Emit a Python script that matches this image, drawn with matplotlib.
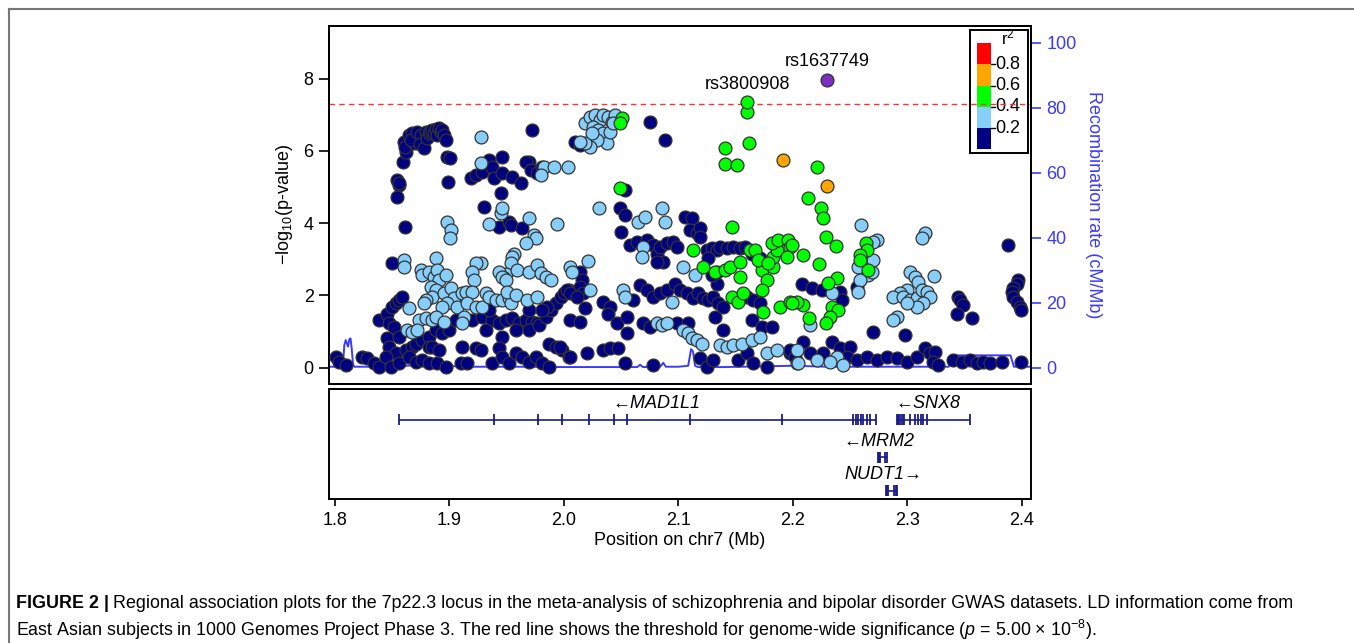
import numpy as np
import matplotlib
matplotlib.use("Agg")
import matplotlib.pyplot as plt
from matplotlib.lines import Line2D
from matplotlib.patches import Rectangle

plt.rcParams['font.family'] = ['Liberation Sans', 'DejaVu Sans']
plt.rcParams['mathtext.fontset'] = 'custom'
plt.rcParams['mathtext.rm'] = 'Liberation Sans'
plt.rcParams['mathtext.it'] = 'Liberation Sans:italic'

# SNPs by LD bin: (position Mb, -log10 p)
snp_r2_00 = [
    (1.8545, 5.19), (1.8559, 5.05), (1.8545, 4.73), (1.8555, 5.10), (1.8594, 5.70),
    (1.8603, 6.25), (1.8617, 5.98), (1.8610, 6.10), (1.8646, 6.44), (1.8676, 6.48),
    (1.8690, 6.21), (1.8660, 6.30), (1.8719, 6.53), (1.8748, 6.44), (1.8740, 6.20),
    (1.8777, 6.07), (1.8792, 6.53), (1.8800, 6.35), (1.8821, 6.48), (1.8830, 6.55),
    (1.8850, 6.58), (1.8865, 6.50), (1.8879, 6.59), (1.8890, 6.45), (1.8908, 6.62),
    (1.8923, 6.53), (1.8937, 6.58), (1.8952, 6.44), (1.8967, 6.30), (1.8981, 5.84),
    (1.9001, 5.79), (1.8990, 5.15), (1.8609, 3.90), (1.8501, 2.89),
    (1.9185, 5.24), (1.9228, 5.33), (1.9287, 5.42), (1.9345, 5.75), (1.9374, 5.56),
    (1.9388, 5.24), (1.9461, 5.84), (1.9461, 5.38), (1.9549, 5.28), (1.9621, 5.10),
    (1.9447, 4.82), (1.9301, 4.45), (1.9432, 3.90), (1.9519, 4.04), (1.9534, 3.95),
    (1.9636, 3.86), (1.9694, 5.70), (1.9665, 5.70), (1.9709, 5.47), (1.9767, 5.38),
    (1.9810, 5.56), (1.9717, 6.58),
    (1.8385, 1.32), (1.8457, 1.50), (1.8501, 1.69), (1.8530, 1.78), (1.8559, 1.87),
    (1.8588, 1.97), (1.8472, 1.23), (1.8515, 1.14), (1.8457, 0.81), (1.8472, 0.58),
    (1.8559, 0.86), (1.8530, 0.40), (1.8617, 0.49), (1.8676, 0.58), (1.8705, 0.67),
    (1.8763, 0.77), (1.8821, 0.86), (1.8879, 1.04), (1.8937, 0.95), (1.8996, 1.04),
    (1.9054, 1.32), (1.8821, 0.58), (1.8850, 0.58), (1.8908, 0.49), (1.9199, 1.32),
    (1.9287, 1.41), (1.9374, 1.32), (1.9432, 1.23), (1.9490, 1.32), (1.9549, 1.37),
    (1.9607, 1.23), (1.9665, 1.32), (1.9723, 1.27), (1.9767, 1.23), (1.9461, 0.86),
    (1.9578, 1.04), (1.9694, 1.04), (1.9781, 1.18), (1.9840, 1.41), (1.9883, 1.60),
    (1.9927, 1.78), (1.9970, 1.97), (1.9999, 2.06), (2.0043, 2.15), (1.9854, 1.69),
    (1.9810, 1.60), (1.9694, 1.60), (1.9345, 1.60), (1.9316, 1.04),
    (1.8006, 0.31), (1.8035, 0.17), (1.8094, 0.08), (1.8239, 0.31), (1.8283, 0.26),
    (1.8341, 0.12), (1.8385, 0.03), (1.8443, 0.31), (1.8486, 0.03), (1.8559, 0.12),
    (1.8646, 0.31), (1.8705, 0.17), (1.8763, 0.21), (1.8821, 0.12), (1.8894, 0.12),
    (1.8967, 0.03), (1.9112, 0.58), (1.9097, 0.12), (1.9156, 0.12), (1.9228, 0.54),
    (1.9272, 0.49), (1.9374, 0.12), (1.9432, 0.54), (1.9461, 0.31), (1.9519, 0.12),
    (1.9578, 0.40), (1.9636, 0.31), (1.9694, 0.17), (1.9752, 0.31), (1.9810, 0.12),
    (1.9869, 0.67), (1.9927, 0.58), (1.9985, 0.49), (2.0043, 0.31), (1.9869, 0.03),
    (2.0096, 6.25), (2.0140, 6.16), (2.0751, 6.79), (2.0882, 6.30), (2.0532, 4.92),
    (2.0489, 4.41), (2.0532, 4.22), (2.0498, 3.76),
    (2.0576, 3.39), (2.0634, 3.49), (2.0722, 3.53), (2.0780, 3.39), (2.0809, 3.16),
    (2.0838, 3.35), (2.0896, 3.44), (2.0954, 3.49), (2.0984, 3.35), (2.1056, 4.18),
    (2.1114, 4.13), (2.1100, 3.81), (2.1158, 3.72), (2.1187, 3.86), (2.1187, 3.62),
    (2.1245, 3.26), (2.1289, 3.30), (2.1333, 3.26), (2.1362, 3.35), (2.1420, 3.30),
    (2.1478, 3.35), (2.1536, 3.30), (2.1580, 3.35), (2.1638, 3.16), (2.1711, 3.03),
    (2.0867, 2.93), (2.0809, 2.93), (2.1260, 3.03), (2.1333, 2.33), (2.1289, 2.56),
    (2.1333, 2.66), (2.0140, 2.66), (2.0154, 2.43), (2.0140, 2.24), (2.0169, 2.06),
    (2.0024, 2.15), (2.0053, 2.06), (2.0111, 1.97), (2.0183, 1.64), (2.0052, 1.32),
    (2.0140, 1.27), (2.0343, 1.83), (2.0402, 1.69), (2.0387, 1.50), (2.0460, 1.23),
    (2.0547, 1.41), (2.0547, 0.95), (2.0605, 1.87), (2.0663, 2.29), (2.0722, 2.15),
    (2.0780, 1.97), (2.0838, 2.06), (2.0896, 2.15), (2.0969, 2.33), (2.1013, 2.15),
    (2.1071, 2.06), (2.1129, 1.92), (2.1173, 2.06), (2.1216, 1.92), (2.1260, 1.87),
    (2.1304, 1.97), (2.1347, 1.78), (2.1391, 1.69), (2.1318, 1.41), (2.1391, 1.04),
    (2.1595, 1.97), (2.1653, 1.87), (2.1711, 1.78), (2.1638, 1.32), (2.1726, 1.14),
    (2.1813, 1.14), (2.0693, 1.23), (2.0751, 1.14), (2.0984, 1.23), (2.1085, 1.23),
    (1.9965, 0.58), (2.0052, 0.31), (2.0198, 0.40), (2.0343, 0.49), (2.0402, 0.54),
    (2.0474, 0.54), (2.0532, 0.12), (2.0780, 0.08), (2.1187, 0.26), (2.1245, 0.03),
    (2.1304, 0.21), (2.1522, 0.21), (2.1595, 0.40), (2.1653, 0.12), (2.1769, 0.03),
    (2.1973, 0.40),
    (2.2076, 2.33), (2.2163, 2.20), (2.2250, 2.15), (2.2411, 2.10), (2.2425, 1.87),
    (2.2556, 2.24), (2.2702, 1.00), (2.2978, 0.90), (2.3444, 1.97), (2.3458, 1.87),
    (2.3487, 1.74), (2.3429, 1.50), (2.3560, 1.37), (2.3880, 3.39), (2.3967, 2.43),
    (2.3953, 2.33), (2.3924, 2.20), (2.3909, 2.10), (2.3924, 1.97), (2.3953, 1.83),
    (2.3982, 1.69), (2.3996, 1.60),
    (2.2090, 0.72), (2.2338, 0.72), (2.2411, 0.54), (2.2498, 0.58), (2.2469, 0.31),
    (2.2556, 0.21), (2.2643, 0.31), (2.2731, 0.21), (2.2818, 0.31), (2.2905, 0.26),
    (2.2993, 0.17), (2.3080, 0.31), (2.3153, 0.54), (2.3196, 0.40), (2.3240, 0.44),
    (2.3225, 0.17), (2.3269, 0.08), (2.3400, 0.21), (2.3473, 0.17), (2.3545, 0.21),
    (2.3604, 0.12), (2.3662, 0.17), (2.3720, 0.12), (2.3822, 0.17), (2.3996, 0.17),
    (2.1974, 0.49), (2.2018, 0.31), (2.2149, 0.40), (2.2265, 0.40),
]

snp_r2_02 = [
    (1.9272, 6.39), (1.8981, 4.04), (1.9010, 3.81), (1.9004, 3.58), (1.8603, 2.98),
    (1.8603, 2.80), (1.9272, 5.65), (1.9447, 4.27), (1.9461, 4.41), (1.9345, 3.99),
    (1.9694, 4.13), (1.9738, 3.67), (1.9752, 3.58), (1.9665, 3.44), (1.9563, 3.16),
    (1.9549, 3.07), (1.9534, 2.89), (1.9490, 2.60), (1.9476, 2.47), (1.9941, 3.99),
    (1.9272, 2.89), (1.9228, 2.89), (1.9199, 2.66), (1.9214, 2.43), (1.8879, 3.03),
    (1.8748, 2.70), (1.8763, 2.56), (1.8821, 2.66), (1.8865, 2.52), (1.8894, 2.70),
    (1.8908, 2.43), (1.8967, 2.56), (1.8836, 2.24), (1.8879, 2.15), (1.8850, 1.97),
    (1.8792, 1.87), (1.8777, 1.78), (1.8952, 2.06), (1.9010, 2.20), (1.9039, 1.92),
    (1.8981, 1.78), (1.8937, 1.69), (1.9068, 1.69), (1.9112, 2.06), (1.9141, 2.10),
    (1.9199, 2.10), (1.9156, 1.78), (1.9228, 1.69), (1.9287, 1.69), (1.9127, 1.41),
    (1.9112, 1.23), (1.8646, 1.64), (1.8734, 1.32), (1.8792, 1.37), (1.8850, 1.32),
    (1.8879, 1.41), (1.8952, 1.27), (1.8632, 1.04), (1.8676, 0.99), (1.8719, 1.04),
    (1.9316, 2.06), (1.9345, 1.97), (1.9403, 1.87), (1.9461, 1.87), (1.9519, 1.92),
    (1.9534, 1.78), (1.9432, 2.66), (1.9461, 2.52), (1.9490, 2.43), (1.9592, 2.70),
    (1.9505, 2.10), (1.9578, 2.01), (1.9694, 2.66), (1.9767, 2.84), (1.9796, 2.61),
    (1.9840, 2.52), (1.9883, 2.43), (1.9679, 1.87), (1.9767, 1.97), (1.9825, 5.56),
    (1.9912, 5.56), (2.0038, 5.56), (1.9796, 5.33),
    (2.0183, 6.76), (2.0227, 6.94), (2.0271, 6.99), (2.0314, 6.85), (2.0343, 6.99),
    (2.0387, 6.94), (2.0416, 6.81), (2.0445, 6.99), (2.0256, 6.67), (2.0300, 6.58),
    (2.0343, 6.48), (2.0372, 6.21), (2.0285, 6.30), (2.0227, 6.11), (2.0183, 6.21),
    (2.0140, 6.25), (2.0241, 6.48), (2.0402, 6.53), (2.0431, 6.76),
    (2.0308, 4.41), (2.0649, 4.04), (2.0707, 4.18), (2.0853, 4.41), (2.0882, 4.04),
    (2.0693, 3.35), (2.0678, 3.07), (2.1042, 2.80), (2.1144, 2.56), (2.0212, 2.96),
    (2.0052, 2.80), (2.0067, 2.66), (2.0227, 2.15), (2.0518, 2.15), (2.0532, 1.97),
    (2.0940, 1.83), (2.0809, 1.23), (2.0853, 1.18), (2.0896, 1.23), (2.1042, 1.04),
    (2.1085, 0.95), (2.1114, 0.81), (2.1158, 0.77), (2.1202, 0.67), (2.1362, 0.63),
    (2.1420, 0.58), (2.1478, 0.63), (2.1551, 0.67), (2.1638, 0.77), (2.1711, 0.86),
    (2.1769, 0.40), (2.1857, 0.49), (2.2031, 0.49), (2.2031, 0.12),
    (2.2591, 3.95), (2.2731, 3.53), (2.2702, 3.49), (2.2571, 2.80), (2.2658, 2.56),
    (2.2687, 2.66), (2.2702, 2.98), (2.2585, 2.43), (2.2571, 2.10), (2.2338, 2.06),
    (2.2149, 1.18), (2.3153, 3.72), (2.3123, 3.58), (2.3022, 2.66), (2.3065, 2.52),
    (2.3094, 2.38), (2.2993, 2.15), (2.2934, 2.06), (2.2876, 1.97), (2.2963, 1.97),
    (2.3022, 1.87), (2.3080, 1.92), (2.3123, 2.15), (2.3167, 2.10), (2.3196, 1.97),
    (2.3138, 1.78), (2.3080, 1.69), (2.2993, 1.78), (2.2905, 1.41), (2.2876, 1.32),
    (2.3234, 2.55), (2.2381, 0.31), (2.2323, 0.17), (2.2207, 0.21), (2.2047, 0.12),
    (2.2440, 0.08),
]

snp_r2_04 = [
    (2.1595, 7.08), (2.1615, 6.23), (2.1405, 6.07), (2.1405, 5.63), (2.1507, 5.61),
    (2.0503, 6.90), (2.0489, 6.76), (2.0489, 4.96), (2.1464, 3.90), (2.1129, 3.26),
    (2.1216, 2.80), (2.1318, 2.66), (2.1405, 2.70), (2.1449, 2.80), (2.1536, 2.93),
    (2.1536, 2.52), (2.1464, 1.97), (2.1522, 1.83), (2.1566, 2.06), (2.1726, 2.70),
    (2.1769, 2.43), (2.1726, 2.15), (2.1740, 1.55), (2.1827, 2.80), (2.1827, 3.07),
    (2.1857, 3.26), (2.1813, 3.44), (2.1871, 3.53), (2.1958, 3.53), (2.1973, 3.35),
    (2.1944, 3.07), (2.1886, 1.69), (2.1973, 1.83), (2.1624, 3.26), (2.1667, 3.26),
    (2.1696, 2.98), (2.1784, 2.89),
    (2.2213, 5.56), (2.2134, 4.69), (2.2242, 4.41), (2.2265, 4.13), (2.2288, 3.61),
    (2.2376, 3.37), (2.2085, 3.12), (2.2224, 2.87), (2.2381, 2.47), (2.2309, 2.35),
    (2.2338, 1.69), (2.2396, 1.60), (2.2323, 1.41), (2.2288, 1.23), (2.2143, 1.37),
    (2.2090, 1.73), (2.2032, 1.83), (2.1989, 1.78), (2.1989, 3.39), (2.2637, 3.46),
    (2.2649, 3.26), (2.2585, 3.12), (2.2658, 2.70), (2.2585, 2.98),
    (2.1603, 7.34),
]

snp_r2_06 = [(2.1909, 5.75), (2.2294, 5.04)]

lead_snp = (2.2300, 7.96)
labelled = [("rs1637749", 2.2300, 7.96), ("rs3800908", 2.1603, 7.34)]

# recombination rate (cM/Mb)
recomb_pos = [1.7948, 1.8060, 1.8072, 1.8082, 1.8094, 1.8104, 1.8114, 1.8126, 1.8136,
              1.8146, 1.8158, 1.8170, 1.8500, 1.8700, 1.8900, 1.9200, 1.9600, 2.0000,
              2.0400, 2.0640, 2.0665, 2.0690, 2.0840, 2.0867, 2.0890, 2.1000, 2.1085,
              2.1110, 2.1127, 2.1145, 2.1170, 2.1400, 2.1700, 2.2000, 2.2300, 2.2700,
              2.3000, 2.3360, 2.3400, 2.3900, 2.3930, 2.4079]
recomb_rate = [0.3, 0.3, 2.0, 7.0, 8.5, 7.5, 6.5, 8.8, 9.0, 6.0, 1.0, 0.3, 0.3, 0.8, 0.6,
               0.3, 0.3, 0.2, 0.2, 0.2, 0.9, 0.2, 0.3, 1.5, 0.3, 0.3, 0.6,
               5.7, 5.0, 0.6, 0.2, 0.2, 0.4, 0.6, 0.3, 0.3, 0.3, 0.3, 3.8, 3.8, 0.3, 0.3]

sig_logp = -np.log10(5e-8)

# genes
mad1l1_span = (1.8556, 2.2725)
mad1l1_exons = [1.8556, 1.9391, 1.9772, 1.9983, 2.0215, 2.0438, 2.0554, 2.1100, 2.1908,
                2.2527, 2.2550, 2.2570, 2.2594, 2.2614, 2.2643, 2.2672, 2.2725]
snx8_span = (2.2906, 2.3546)
snx8_exons = [2.2908, 2.2918, 2.2928, 2.2940, 2.2960, 2.2972, 2.3022, 2.3066, 2.3095,
              2.3115, 2.3138, 2.3168, 2.3546]
mrm2_span = (2.2740, 2.2818)
mrm2_exons = [2.2740, 2.2750, 2.2760, 2.2804, 2.2818]
nudt1_span = (2.2812, 2.2911)
nudt1_exons = [2.2812, 2.2822, 2.2832, 2.2885, 2.2898, 2.2911]

col_bins = ['#000080', '#87CEFA', '#00FF00', '#FFA500', '#FF0000']
lead_col = '#7B2FC0'
gene_col = '#1A1A8A'
rec_col = '#3A3AFF'

W, H = 1354, 643
fig = plt.figure(figsize=(W / 100, H / 100), dpi=100)

ax = fig.add_axes([329 / W, 1 - 383.7 / H, 702 / W, 357.7 / H])
ax2 = ax.twinx()
ax.set_zorder(ax2.get_zorder() + 1)
ax.patch.set_visible(False)

ax2.plot(recomb_pos, recomb_rate, color=rec_col, lw=1.4)
ax2.set_ylim(-4.92, 105.1)
ax2.set_yticks([0, 20, 40, 60, 80, 100])
ax2.tick_params(axis='y', colors=rec_col, labelsize=13, length=7, width=1.2, pad=4)
ax2.spines['right'].set_color('black')
ax2.set_ylabel('Recombination rate (cM/Mb)', color=rec_col, fontsize=13,
               rotation=270, labelpad=18)

ax.axhline(sig_logp, color='#FF3333', ls=(0, (4, 3)), lw=1.0, zorder=1)

kw = dict(s=86, edgecolors='#333333', linewidths=0.9, zorder=3)
for pts, c in zip([snp_r2_00, snp_r2_02, snp_r2_04, snp_r2_06], col_bins):
    arr = np.array(pts)
    ax.scatter(arr[:, 0], arr[:, 1], c=c, **kw)
ax.scatter([lead_snp[0]], [lead_snp[1]], c=lead_col, **kw)

for name, px, py in labelled:
    ax.annotate(name, (px, py), xytext=(0, 7), textcoords='offset points',
                ha='center', va='bottom', fontsize=13)

ax.set_xlim(1.7948, 2.4079)
ax.set_ylim(-0.44, 9.452)
ax.set_yticks([0, 2, 4, 6, 8])
ax.set_xticks([])
ax.tick_params(axis='y', labelsize=13, length=7, width=1.2, pad=4)
ax.set_ylabel(r'$-$log$_{10}$(p-value)', fontsize=13, labelpad=6)
for sp in ax.spines.values():
    sp.set_linewidth(1.4)
for sp in ax2.spines.values():
    sp.set_linewidth(1.4)

# gene track
gx = fig.add_axes([329 / W, 1 - 499.3 / H, 702 / W, 110 / H])
gx.set_xlim(1.7948, 2.4079)
gx.set_ylim(0, 1)
gx.set_yticks([])
gx.set_xticks([1.8, 1.9, 2.0, 2.1, 2.2, 2.3, 2.4])
gx.set_xticklabels(['1.8', '1.9', '2.0', '2.1', '2.2', '2.3', '2.4'])
gx.tick_params(axis='x', labelsize=13, length=5, width=1.2, pad=4)
gx.set_xlabel('Position on chr7 (Mb)', fontsize=13, labelpad=2)
for sp in gx.spines.values():
    sp.set_linewidth(1.4)

genes = [
    ('MAD1L1', mad1l1_span, mad1l1_exons, 0.721, 2.081, 0.873, 'left'),
    ('SNX8', snx8_span, snx8_exons, 0.721, 2.318, 0.873, 'left'),
    ('MRM2', mrm2_span, mrm2_exons, 0.382, 2.275, 0.524, 'left'),
    ('NUDT1', nudt1_span, nudt1_exons, 0.078, 2.2787, 0.221, 'right'),
]
for name, span, exons, gy, lx, ly, strand in genes:
    gx.hlines(gy, span[0], span[1], color=gene_col, lw=1.2)
    gx.vlines(exons, gy - 0.05, gy + 0.05, color=gene_col, lw=1.3)
    label = ('\u2190' + name) if strand == 'left' else (name + '\u2192')
    gx.text(lx, ly, label, ha='center', va='center', fontsize=13, style='italic',
            family=['Liberation Sans', 'DejaVu Sans'])

# r2 legend
lg = fig.add_axes([970 / W, 1 - 153 / H, 57.7 / W, 123 / H])
lg.set_xlim(0, 57.7)
lg.set_ylim(-0.035, 1.125)
lg.set_xticks([])
lg.set_yticks([])
for sp in lg.spines.values():
    sp.set_linewidth(1.4)
r2_edges = [0, 0.2, 0.4, 0.6, 0.8, 1.0]
for i, c in enumerate(col_bins):
    lg.add_patch(Rectangle((7.3, r2_edges[i]), 13.7, 0.2, color=c, lw=0))
for v in r2_edges[1:-1]:
    lg.plot([21, 24.5], [v, v], color='black', lw=1)
    lg.text(25, v, f'{v:.1f}', ha='left', va='center', fontsize=13)
lg.text(31, 0.985, r'r$^2$', ha='left', va='baseline', fontsize=12)

# frame lines of the page
fig.add_artist(Line2D([9 / W, 1], [1 - 9 / H, 1 - 9 / H], color='#777777', lw=1.5))
fig.add_artist(Line2D([9 / W, 9 / W], [0, 1 - 9 / H], color='#777777', lw=1.5))

# caption
cap_size = 12.9
renderer = fig.canvas.get_renderer()
t1 = fig.text(16 / W, 1 - 603 / H, 'FIGURE 2 |', fontsize=cap_size, weight='bold',
              va='center', ha='left')
bb = t1.get_window_extent(renderer=renderer)
fig.text(bb.x1 / W + 4 / W, 1 - 603 / H,
         'Regional association plots for the 7p22.3 locus in the meta-analysis of '
         'schizophrenia and bipolar disorder GWAS datasets. LD information come from',
         fontsize=cap_size, va='center', ha='left')
fig.text(16 / W, 1 - 630 / H,
         'East Asian subjects in 1000 Genomes Project Phase 3. The red line shows the '
         'threshold for genome-wide significance ($\\it{p}$ = 5.00 \u00d7 10$^{\u22128}$).',
         fontsize=cap_size, va='center', ha='left')

fig.savefig('out.png', dpi=100)
